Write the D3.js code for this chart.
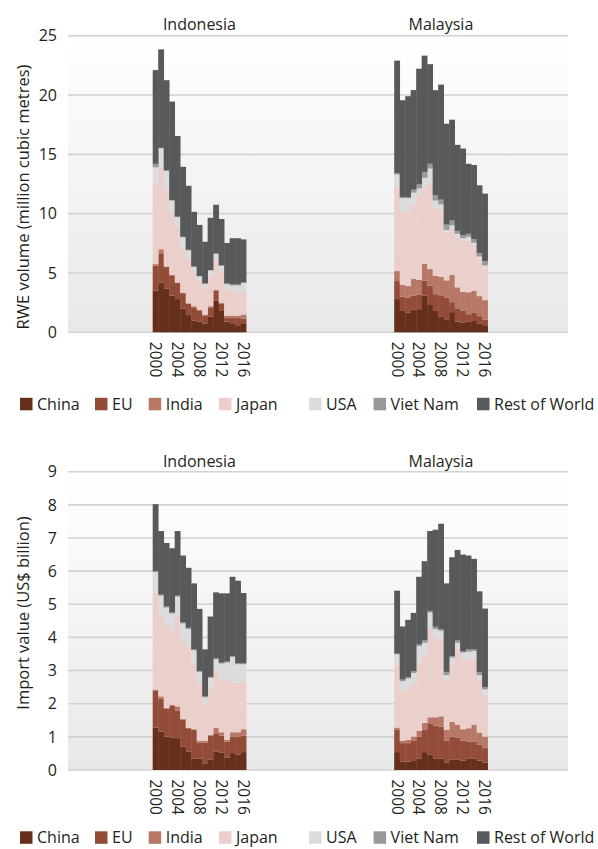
<!DOCTYPE html>
<html><head><meta charset="utf-8">
<script src="https://cdn.jsdelivr.net/npm/d3@7"></script>
<style>
body{margin:0;background:#fff}
svg{display:block}
text{font-family:"Open Sans",sans-serif;fill:#231f20}
</style>
</head><body>
<svg id="chart" width="598" height="849"></svg>
<script>
// ---------- DATA ----------
const years = [2000,2001,2002,2003,2004,2005,2006,2007,2008,2009,2010,2011,2012,2013,2014,2015,2016];
const yearTicks = [2000,2004,2008,2012,2016];
const countries = ["Indonesia","Malaysia"];
const partners = ["China","EU","India","Japan","USA","Viet Nam","Rest of World"];
const partnerColors = ["#65301b","#924c38","#b77867","#ebcfcb","#dcdcde","#98999b","#58595b"];
const volumeTicks = [0,5,10,15,20,25];
const valueTicks = [0,1,2,3,4,5,6,7,8,9];

// RWE volume (million cubic metres) – Indonesia
const volIdnChina = [3.5,4.2,3.7,3.1,2.8,2.0,1.45,1.0,0.9,0.75,1.3,2.65,1.8,0.9,0.7,0.6,0.7];
const volIdnEU    = [2.1,2.4,1.8,1.7,1.35,1.3,0.95,1.1,0.95,0.65,0.8,0.85,0.6,0.3,0.5,0.6,0.45];
const volIdnIndia = [0.15,0.4,0.05,0.05,0.05,0.05,0.05,0.1,0.05,0.1,0.1,0.1,0.1,0.2,0.2,0.2,0.35];
const volIdnJapan = [6.85,6.9,6.45,5.15,4.7,3.75,3.65,2.8,2.4,2.2,2.5,2.5,2.6,2.3,2.2,1.9,2.0];
const volIdnUSA   = [1.3,1.6,1.6,1.1,0.8,0.9,0.8,0.5,0.4,0.35,0.5,0.5,0.5,0.35,0.35,0.65,0.65];
const volIdnVN    = [0.3,0.05,0.05,0.05,0.05,0.05,0.05,0.05,0.05,0.08,0.05,0.05,0.05,0.08,0.08,0.08,0.08];
const volIdnROW   = [7.9,8.3,7.6,8.3,6.8,5.9,5.4,4.6,4.3,3.5,4.4,4.1,3.9,3.4,3.9,3.9,3.6];
// RWE volume – Malaysia
const volMysChina = [2.8,1.8,1.65,1.9,1.95,3.1,2.3,1.8,1.3,1.1,1.7,0.9,0.8,0.9,0.95,0.75,0.6];
const volMysEU    = [1.52,1.21,1.27,1.2,1.21,1.24,1.62,1.41,1.82,1.8,0.84,1.12,1.01,0.62,0.73,0.61,0.48];
const volMysIndia = [0.84,0.98,0.98,1.41,1.26,1.43,1.41,1.54,1.54,1.48,2.3,1.77,1.6,1.85,1.8,1.69,1.63];
const volMysJapan = [7.14,6.17,6.2,6.21,7.15,6.35,7.17,5.76,5.67,4.1,3.93,4.21,4.33,4.38,3.92,3.14,2.68];
const volMysUSA   = [1.0,1.15,1.2,1.05,0.55,0.9,1.3,0.6,0.45,0.15,0.25,0.3,0.2,0.3,0.15,0.2,0.25];
const volMysVN    = [0.1,0.1,0.1,0.25,0.35,0.5,0.4,0.45,0.4,0.45,0.4,0.25,0.25,0.25,0.3,0.3,0.35];
const volMysROW   = [9.5,8.15,8.5,8.4,9.75,9.8,8.4,8.85,9.7,8.5,8.5,7.25,7.3,5.9,6.25,5.7,5.7];

// Import value (US$ billion) – Indonesia
const valIdnChina = [1.28,1.16,1.01,0.98,0.96,0.71,0.56,0.35,0.35,0.2,0.32,0.56,0.53,0.37,0.51,0.46,0.54];
const valIdnEU    = [1.12,0.98,0.84,0.96,0.83,0.81,0.7,0.86,0.48,0.63,0.72,0.55,0.51,0.49,0.5,0.55,0.5];
const valIdnIndia = [0.03,0.08,0.02,0.03,0.13,0.02,0.01,0.02,0.05,0.05,0.02,0.17,0.1,0.05,0.13,0.13,0.19];
const valIdnJapan = [2.93,2.48,2.51,2.25,2.76,2.35,2.45,1.98,1.72,1.09,1.39,1.75,1.59,1.85,1.49,1.49,1.42];
const valIdnUSA   = [0.61,0.56,0.52,0.5,0.55,0.53,0.54,0.4,0.36,0.22,0.33,0.31,0.48,0.48,0.78,0.56,0.54];
const valIdnVN    = [0.03,0.03,0.03,0.03,0.03,0.03,0.03,0.03,0.03,0.03,0.03,0.03,0.03,0.03,0.03,0.03,0.03];
const valIdnROW   = [2.02,1.92,1.92,1.94,1.95,2.02,1.81,1.99,1.87,1.42,1.82,1.99,2.09,2.06,2.39,2.49,2.12];
// Import value – Malaysia
const valMysChina = [0.54,0.25,0.25,0.27,0.35,0.54,0.46,0.35,0.35,0.23,0.32,0.32,0.28,0.35,0.35,0.28,0.23];
const valMysEU    = [0.67,0.56,0.56,0.61,0.66,0.67,0.93,0.99,0.96,0.65,0.69,0.66,0.6,0.51,0.51,0.48,0.43];
const valMysIndia = [0.07,0.07,0.1,0.13,0.17,0.21,0.2,0.25,0.31,0.33,0.44,0.39,0.35,0.4,0.51,0.37,0.35];
const valMysJapan = [1.88,1.52,1.52,1.62,2.06,2.02,2.69,2.4,2.32,1.49,1.74,2.3,2.08,2.08,2.02,1.6,1.27];
const valMysUSA   = [0.33,0.28,0.33,0.3,0.5,0.4,0.47,0.26,0.26,0.16,0.2,0.17,0.23,0.23,0.2,0.13,0.15];
const valMysVN    = [0.02,0.05,0.04,0.05,0.05,0.07,0.05,0.07,0.05,0.1,0.05,0.07,0.05,0.07,0.05,0.1,0.07];
const valMysROW   = [1.9,1.6,1.73,1.76,2.04,2.39,2.41,2.93,3.18,2.67,2.98,2.73,2.91,2.83,2.73,2.43,2.37];

// ---------- BUILD TABLES ----------
function table(series){
  return years.map((yr,i)=>{
    const row = {year:yr};
    partners.forEach((p,k)=>row[p]=series[k][i]);
    return row;
  });
}
const volumeData = {
  Indonesia: table([volIdnChina,volIdnEU,volIdnIndia,volIdnJapan,volIdnUSA,volIdnVN,volIdnROW]),
  Malaysia:  table([volMysChina,volMysEU,volMysIndia,volMysJapan,volMysUSA,volMysVN,volMysROW])
};
const valueData = {
  Indonesia: table([valIdnChina,valIdnEU,valIdnIndia,valIdnJapan,valIdnUSA,valIdnVN,valIdnROW]),
  Malaysia:  table([valMysChina,valMysEU,valMysIndia,valMysJapan,valMysUSA,valMysVN,valMysROW])
};

// ---------- LAYOUT ----------
const svg = d3.select("#chart");
const plotX0 = 68, plotX1 = 568;
const facetRange = {Indonesia:[152.7,246.1], Malaysia:[394.2,487.6]};
const legendX = [20,95,148.7,219,309,373.6,477];

const panels = [
  {title:"RWE volume (million cubic metres)", data:volumeData, ticks:volumeTicks,
   top:35.7, bottom:332.3, titleY:197, facetTitleY:30, legendY:404},
  {title:"Import value (US$ billion)", data:valueData, ticks:valueTicks,
   top:471.7, bottom:770, titleY:613, facetTitleY:467, legendY:837.5}
];

const defs = svg.append("defs");
const grad = defs.append("linearGradient").attr("id","bg").attr("x1",0).attr("y1",0).attr("x2",0).attr("y2",1);
grad.append("stop").attr("offset","0%").attr("stop-color","#ffffff");
grad.append("stop").attr("offset","100%").attr("stop-color","#e8e8e8");

const stack = d3.stack().keys(partners);
const color = d3.scaleOrdinal().domain(partners).range(partnerColors);

panels.forEach(p=>{
  const g = svg.append("g");
  const y = d3.scaleLinear().domain([0, d3.max(p.ticks)]).range([p.bottom, p.top]);

  g.append("rect").attr("x",plotX0).attr("y",p.top).attr("width",plotX1-plotX0)
    .attr("height",p.bottom-p.top).attr("fill","url(#bg)");

  g.selectAll("line.grid").data(p.ticks).join("line").attr("class","grid")
    .attr("x1",plotX0).attr("x2",plotX1).attr("y1",d=>y(d)).attr("y2",d=>y(d))
    .attr("stroke","#d2d2d2").attr("stroke-width",1.6);

  g.selectAll("text.ytick").data(p.ticks).join("text").attr("class","ytick")
    .attr("x",57).attr("y",d=>y(d)).attr("dy","0.36em").attr("text-anchor","end")
    .style("font-size","16px").text(d=>d);

  g.append("text").attr("transform",`translate(23,${p.titleY}) rotate(-90)`)
    .attr("dy","0.35em").attr("text-anchor","middle").style("font-size","16.5px").text(p.title);

  countries.forEach(c=>{
    const x = d3.scaleBand().domain(years).range(facetRange[c]).padding(0);
    const series = stack(p.data[c]);
    const fg = g.append("g");
    fg.selectAll("g").data(series).join("g").attr("fill",s=>color(s.key))
      .selectAll("rect").data(s=>s).join("rect")
      .attr("x",d=>x(d.data.year)).attr("width",x.bandwidth()+0.35)
      .attr("y",d=>y(d[1])).attr("height",d=>Math.max(0,y(d[0])-y(d[1])));

    const cx = (facetRange[c][0]+facetRange[c][1])/2;
    g.append("text").attr("x",cx).attr("y",p.facetTitleY).attr("text-anchor","middle")
      .style("font-size","16px").text(c);

    g.selectAll(null).data(yearTicks).join("text")
      .attr("transform",d=>`translate(${x(d)+x.bandwidth()/2},${p.bottom+9.5}) rotate(90)`)
      .attr("dy","0.35em").attr("text-anchor","start").style("font-size","15.5px").text(d=>d);
  });

  const lg = g.append("g");
  partners.forEach((name,i)=>{
    lg.append("rect").attr("x",legendX[i]).attr("y",p.legendY-6.2).attr("width",12.5).attr("height",12.5)
      .attr("fill",color(name));
    lg.append("text").attr("x",legendX[i]+17).attr("y",p.legendY).attr("dy","0.36em")
      .style("font-size","16px").text(name);
  });
});
</script>
</body></html>
